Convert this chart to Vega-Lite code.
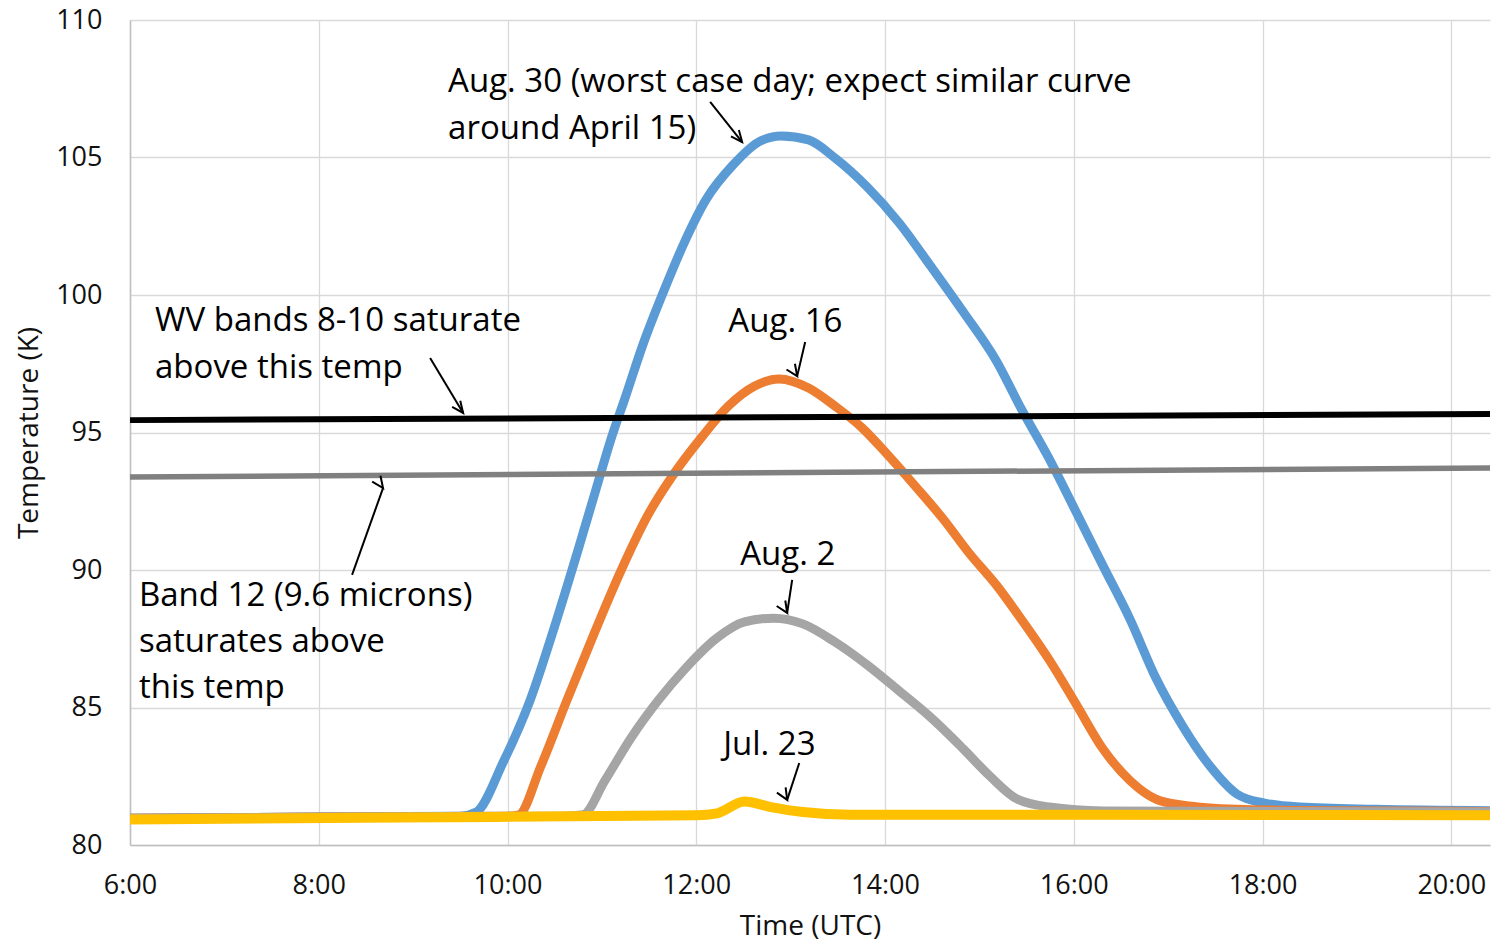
{
  "$schema": "https://vega.github.io/schema/vega-lite/v6.json",
  "width": 1360,
  "height": 825,
  "autosize": {"type": "none"},
  "padding": {"left": 130, "top": 20, "right": 7, "bottom": 100},
  "background": "white",
  "config": {"view": {"stroke": null}, "font": "Open Sans"},
  "datasets": {
    "aug30": [
      {"t": 6.0, "temp": 80.97}, {"t": 8.0, "temp": 81.02}, {"t": 9.5, "temp": 81.05}, {"t": 9.67, "temp": 81.2},
      {"t": 9.95, "temp": 82.98}, {"t": 10.24, "temp": 85.27}, {"t": 10.52, "temp": 88.18}, {"t": 10.75, "temp": 90.76},
      {"t": 10.92, "temp": 92.73}, {"t": 11.09, "temp": 94.69}, {"t": 11.26, "temp": 96.4}, {"t": 11.43, "temp": 98.15},
      {"t": 11.66, "temp": 100.18}, {"t": 11.88, "temp": 101.96}, {"t": 12.1, "temp": 103.45}, {"t": 12.39, "temp": 104.73},
      {"t": 12.68, "temp": 105.6}, {"t": 12.9, "temp": 105.78}, {"t": 13.19, "temp": 105.64}, {"t": 13.47, "temp": 104.98},
      {"t": 13.81, "temp": 103.93}, {"t": 14.15, "temp": 102.62}, {"t": 14.49, "temp": 101.02}, {"t": 14.83, "temp": 99.38},
      {"t": 15.18, "temp": 97.6}, {"t": 15.45, "temp": 95.82}, {"t": 15.74, "temp": 94.04}, {"t": 16.03, "temp": 92.07},
      {"t": 16.31, "temp": 90.15}, {"t": 16.6, "temp": 88.18}, {"t": 16.87, "temp": 86.07}, {"t": 17.16, "temp": 84.29},
      {"t": 17.45, "temp": 82.84}, {"t": 17.73, "temp": 81.85}, {"t": 18.01, "temp": 81.53}, {"t": 18.4, "temp": 81.38},
      {"t": 19.2, "temp": 81.3}, {"t": 20.41, "temp": 81.25}
    ],
    "aug16": [
      {"t": 6.0, "temp": 80.97}, {"t": 8.0, "temp": 81.02}, {"t": 10.0, "temp": 81.05}, {"t": 10.12, "temp": 81.1},
      {"t": 10.35, "temp": 82.84}, {"t": 10.63, "temp": 85.27}, {"t": 10.92, "temp": 87.71}, {"t": 11.2, "temp": 89.96},
      {"t": 11.48, "temp": 91.95}, {"t": 11.77, "temp": 93.53}, {"t": 12.06, "temp": 94.84}, {"t": 12.34, "temp": 95.96},
      {"t": 12.62, "temp": 96.69}, {"t": 12.88, "temp": 96.95}, {"t": 13.19, "temp": 96.62}, {"t": 13.47, "temp": 95.96},
      {"t": 13.76, "temp": 95.16}, {"t": 14.03, "temp": 94.18}, {"t": 14.32, "temp": 93.05}, {"t": 14.61, "temp": 91.88},
      {"t": 14.89, "temp": 90.62}, {"t": 15.18, "temp": 89.45}, {"t": 15.45, "temp": 88.18}, {"t": 15.74, "temp": 86.73},
      {"t": 16.03, "temp": 85.09}, {"t": 16.31, "temp": 83.49}, {"t": 16.6, "temp": 82.33}, {"t": 16.87, "temp": 81.67},
      {"t": 17.16, "temp": 81.45}, {"t": 17.73, "temp": 81.3}, {"t": 18.6, "temp": 81.25}, {"t": 20.41, "temp": 81.22}
    ],
    "aug2": [
      {"t": 6.0, "temp": 80.97}, {"t": 8.0, "temp": 81.02}, {"t": 10.6, "temp": 81.05}, {"t": 10.8, "temp": 81.1},
      {"t": 11.03, "temp": 82.33}, {"t": 11.31, "temp": 83.9}, {"t": 11.6, "temp": 85.27}, {"t": 11.88, "temp": 86.4},
      {"t": 12.22, "temp": 87.53}, {"t": 12.51, "temp": 88.11}, {"t": 12.82, "temp": 88.25}, {"t": 13.13, "temp": 88.04},
      {"t": 13.47, "temp": 87.38}, {"t": 13.81, "temp": 86.55}, {"t": 14.15, "temp": 85.6}, {"t": 14.49, "temp": 84.62},
      {"t": 14.83, "temp": 83.49}, {"t": 15.11, "temp": 82.51}, {"t": 15.4, "temp": 81.67}, {"t": 15.74, "temp": 81.38},
      {"t": 16.31, "temp": 81.24}, {"t": 20.41, "temp": 81.2}
    ],
    "jul23": [
      {"t": 6.0, "temp": 80.93}, {"t": 8.86, "temp": 81.0}, {"t": 12.0, "temp": 81.08}, {"t": 12.22, "temp": 81.15},
      {"t": 12.51, "temp": 81.58}, {"t": 12.79, "temp": 81.38}, {"t": 13.13, "temp": 81.2}, {"t": 13.63, "temp": 81.1},
      {"t": 16.28, "temp": 81.1}, {"t": 20.41, "temp": 81.08}
    ],
    "band12": [{"t": 6.0, "temp": 93.38}, {"t": 20.41, "temp": 93.71}],
    "wv": [{"t": 6.0, "temp": 95.45}, {"t": 20.41, "temp": 95.67}],
    "arrows": [
      {"name": "Aug. 30", "t": 12.486, "temp": 105.56, "t2": 12.147, "temp2": 107.02},
      {"name": "WV", "t": 9.53, "temp": 95.71, "t2": 9.18, "temp2": 97.71},
      {"name": "Band 12", "t": 8.681, "temp": 92.98, "t2": 8.353, "temp2": 89.82},
      {"name": "Aug. 16", "t": 13.069, "temp": 97.05, "t2": 13.154, "temp2": 98.29},
      {"name": "Aug. 2", "t": 12.963, "temp": 88.44, "t2": 13.016, "temp2": 89.64},
      {"name": "Jul. 23", "t": 12.963, "temp": 81.64, "t2": 13.091, "temp2": 82.98}
    ],
    "notes": [
      {"t": 9.37, "temp": 107.75, "label": "Aug. 30 (worst case day; expect similar curve"},
      {"t": 9.37, "temp": 106.04, "label": "around April 15)"},
      {"t": 6.265, "temp": 99.07, "label": "WV bands 8-10 saturate"},
      {"t": 6.265, "temp": 97.36, "label": "above this temp"},
      {"t": 12.34, "temp": 99.03, "label": "Aug. 16"},
      {"t": 12.465, "temp": 90.56, "label": "Aug. 2"},
      {"t": 6.095, "temp": 89.07, "label": "Band 12 (9.6 microns)"},
      {"t": 6.095, "temp": 87.39, "label": "saturates above"},
      {"t": 6.095, "temp": 85.72, "label": "this temp"},
      {"t": 12.285, "temp": 83.65, "label": "Jul. 23"}
    ]
  },
  "encoding": {
    "x": {
      "field": "t", "type": "quantitative",
      "scale": {"domain": [6, 20.41], "nice": false, "zero": false},
      "axis": {
        "title": "Time (UTC)", "values": [6, 8, 10, 12, 14, 16, 18, 20],
        "labelExpr": "datum.value + ':00'", "labelFlush": false, "labelOverlap": false,
        "grid": true, "gridColor": "#d9d9d9", "gridWidth": 1.3,
        "domainColor": "#bfbfbf", "domainWidth": 1.5, "ticks": false,
        "labelFont": "Open Sans", "labelFontSize": 27, "labelColor": "#111", "labelPadding": 27,
        "titleFont": "Open Sans", "titleFontSize": 28, "titleFontWeight": "normal", "titleColor": "#111", "titlePadding": 14
      }
    },
    "y": {
      "field": "temp", "type": "quantitative",
      "scale": {"domain": [80, 110], "nice": false, "zero": false},
      "axis": {
        "title": "Temperature (K)", "values": [80, 85, 90, 95, 100, 105, 110],
        "grid": true, "gridColor": "#d9d9d9", "gridWidth": 1.3,
        "domainColor": "#bfbfbf", "domainWidth": 1.5, "ticks": false,
        "labelFont": "Open Sans", "labelFontSize": 27, "labelColor": "#111", "labelPadding": 28,
        "titleFont": "Open Sans", "titleFontSize": 28, "titleFontWeight": "normal", "titleColor": "#111", "titlePadding": 12
      }
    }
  },
  "layer": [
    {"data": {"name": "aug30"}, "mark": {"type": "line", "color": "#5B9BD5", "strokeWidth": 9, "interpolate": "monotone"}},
    {"data": {"name": "aug16"}, "mark": {"type": "line", "color": "#ED7D31", "strokeWidth": 9, "interpolate": "monotone"}},
    {"data": {"name": "aug2"}, "mark": {"type": "line", "color": "#A5A5A5", "strokeWidth": 9, "interpolate": "monotone"}},
    {"data": {"name": "jul23"}, "mark": {"type": "line", "color": "#FFC000", "strokeWidth": 10, "interpolate": "monotone"}},
    {"data": {"name": "band12"}, "mark": {"type": "line", "color": "#808080", "strokeWidth": 5.5}},
    {"data": {"name": "wv"}, "mark": {"type": "line", "color": "#000000", "strokeWidth": 6}},
    {
      "data": {"name": "arrows"},
      "mark": {"type": "rule", "color": "#000000", "strokeWidth": 2},
      "encoding": {"x2": {"field": "t2"}, "y2": {"field": "temp2"}}
    },
    {
      "data": {"name": "arrows"},
      "mark": {"type": "point", "shape": "M -0.4 0.9 L 0 0 L 0.4 0.9", "filled": false, "stroke": "#000000", "strokeWidth": 2, "size": 650, "opacity": 1},
      "encoding": {
        "angle": {
          "field": "name", "type": "nominal", "legend": null,
          "scale": {"domain": ["Aug. 30", "WV", "Band 12", "Aug. 16", "Aug. 2", "Jul. 23"], "range": [141, 149, 20, 193, 189, 198]}
        }
      }
    },
    {
      "data": {"name": "notes"},
      "mark": {"type": "text", "align": "left", "baseline": "middle", "font": "Open Sans", "fontSize": 33, "color": "#000000"},
      "encoding": {"text": {"field": "label"}}
    }
  ]
}
